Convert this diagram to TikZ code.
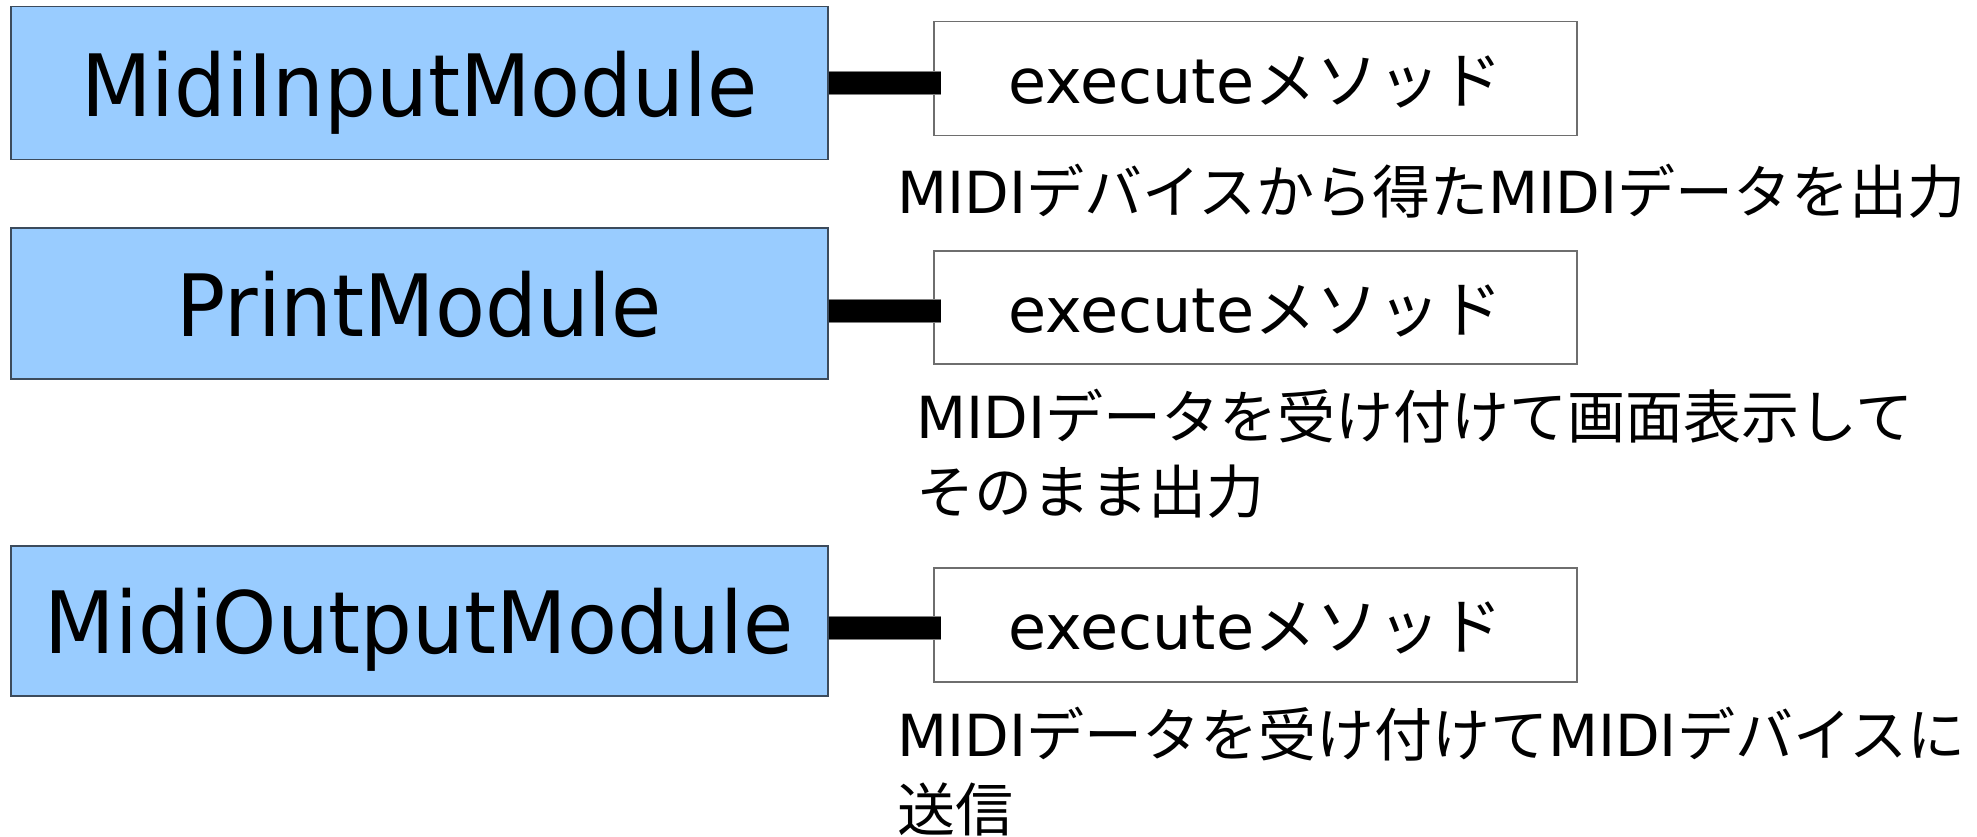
\documentclass[tikz,border=0pt]{standalone}
\usepackage{fontspec}
\setmainfont{DejaVu Sans}
\newfontfamily\modfont[FakeStretch=0.95]{DejaVu Sans}
\newfontfamily\jp{Noto Sans CJK JP}
\usetikzlibrary{calc}
\definecolor{modblue}{HTML}{99CCFF}
\definecolor{modline}{HTML}{3C4B5C}
\definecolor{exline}{HTML}{6E6E6E}
\tikzset{
  modbox/.style={draw=modline, line width=1.5pt, fill=modblue, minimum width=817pt,
    inner sep=0pt, anchor=north west, font=\modfont\fontsize{86}{100}\selectfont,
    text height=66pt, text depth=0pt},
  exbox/.style={draw=exline, line width=1.5pt, fill=white, minimum width=643pt,
    minimum height=114pt, inner sep=0pt, anchor=north west,
    font=\fontsize{62}{70}\selectfont, text height=50pt, text depth=0pt},
  desc/.style={anchor=base west, inner sep=0pt, align=left,
    font=\fontsize{58}{75}\selectfont},
  conn/.style={line width=22pt, draw=black, preaction={draw=gray, line width=23.5pt}}
}
\begin{document}
\begin{tikzpicture}[x=1pt, y=-1pt]
\useasboundingbox[fill=white] (0,0) rectangle (1977,837);
% module boxes
\node[modbox, minimum height=153pt] (m1) at (10,6) {MidiInputModule};
\node[modbox, minimum height=151pt] (m2) at (10,227) {PrintModule};
\node[modbox, minimum height=150pt] (m3) at (10,545) {MidiOutputModule};
% connector end points
\coordinate (c1) at ($(m1.east -| 941,0)$);
\coordinate (c2) at ($([yshift=-7.5pt]m2.east -| 941,0)$);
\coordinate (c3) at ($([yshift=-7pt]m3.east -| 941,0)$);
% method boxes
\node[exbox] (e1) at (933,21) {execute{\jp メソッド}};
\node[exbox, minimum height=113pt] (e2) at (933,250) {execute{\jp メソッド}};
\node[exbox] (e3) at (933,567) {execute{\jp メソッド}};
% connectors, drawn over the method box borders
\draw[conn] (m1.east) -- (c1);
\draw[conn] ([yshift=-7.5pt]m2.east) -- (c2);
\draw[conn] ([yshift=-7pt]m3.east) -- (c3);
% descriptions (anchor is the baseline of the last line)
\node[desc] (d1) at (897,213)
  {MIDI{\jp デバイスから得た}MIDI{\jp データを出力}};
\node[desc] (d2) at (916,513)
  {MIDI{\jp データを受け付けて画面表示して}\\{\jp そのまま出力}};
\node[desc] (d3) at (897,831)
  {MIDI{\jp データを受け付けて}MIDI{\jp デバイスに}\\{\jp 送信}};
\end{tikzpicture}
\end{document}
